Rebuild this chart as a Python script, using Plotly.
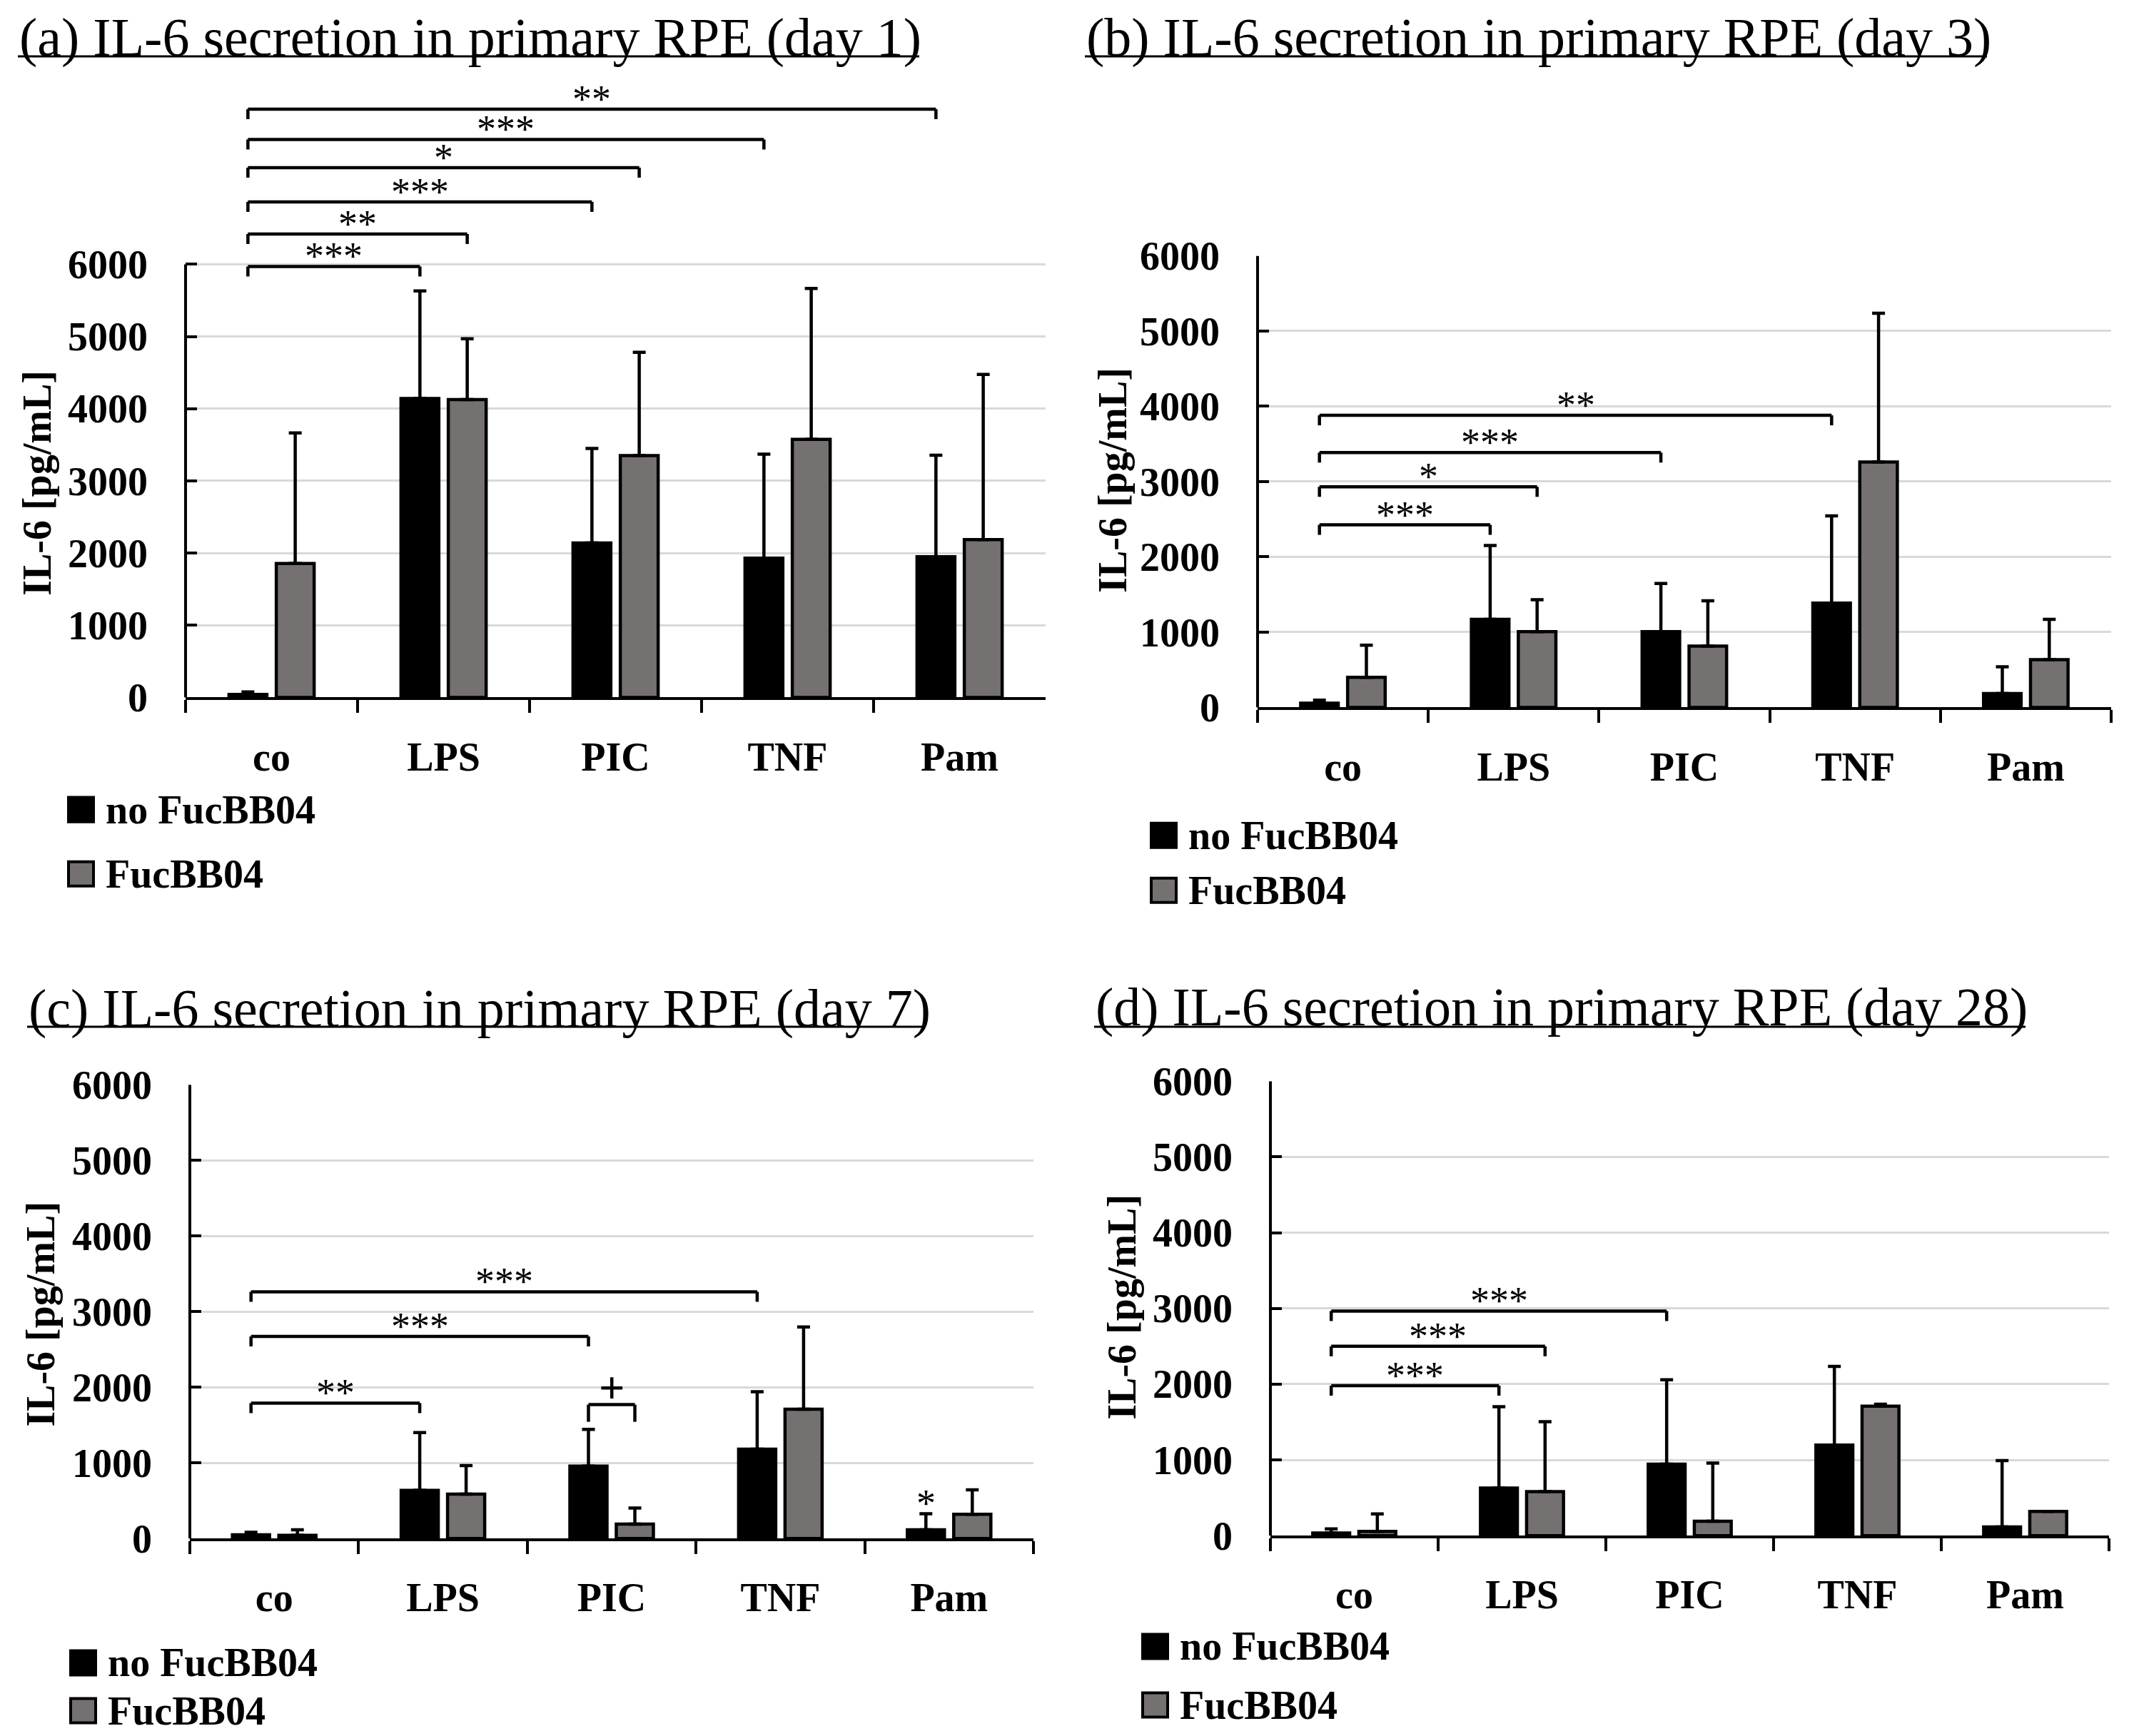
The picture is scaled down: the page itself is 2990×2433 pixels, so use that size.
import plotly.graph_objects as go

categories = ["co", "LPS", "PIC", "TNF", "Pam"]

# (a) day 1
day1_no = [40, 4140, 2140, 1930, 1950]
day1_no_err = [35, 1490, 1310, 1440, 1405]
day1_fuc = [1855, 4125, 3350, 3575, 2185]
day1_fuc_err = [1810, 845, 1430, 2090, 2290]

# (b) day 3
day3_no = [55, 1170, 1005, 1385, 185]
day3_no_err = [40, 980, 640, 1160, 355]
day3_fuc = [400, 1005, 815, 3260, 635]
day3_fuc_err = [425, 425, 600, 1975, 535]

# (c) day 7
day7_no = [48, 636, 957, 1182, 116]
day7_no_err = [34, 765, 485, 759, 212]
day7_fuc = [41, 588, 191, 1709, 321]
day7_fuc_err = [75, 376, 212, 1087, 322]

# (d) day 28
day28_no = [34, 629, 943, 1196, 116]
day28_no_err = [55, 1073, 1114, 1039, 875]
day28_fuc = [55, 581, 191, 1709, 321]
day28_fuc_err = [232, 923, 766, 27, 0]

# significance brackets: (from category, series, to category, series, level, label)
day1_sig = [(0, 0, 1, 0, 5970, "***"), (0, 0, 1, 1, 6420, "**"), (0, 0, 2, 0, 6865, "***"),
            (0, 0, 2, 1, 7340, "*"), (0, 0, 3, 0, 7730, "***"), (0, 0, 4, 0, 8150, "**")]
day3_sig = [(0, 0, 1, 0, 2425, "***"), (0, 0, 1, 1, 2930, "*"), (0, 0, 2, 0, 3385, "***"),
            (0, 0, 3, 0, 3880, "**")]
day7_sig = [(0, 0, 1, 0, 1790, "**"), (0, 0, 2, 0, 2672, "***"), (0, 0, 3, 0, 3262, "***"),
            (2, 0, 2, 1, 1770, "+")]
day28_sig = [(0, 0, 1, 0, 1980, "***"), (0, 0, 1, 1, 2500, "***"), (0, 0, 2, 0, 2965, "***")]

W, H = 2990, 2433
OFF = 8  # page body margin
Y_K, Y_D = 0.973, 37.3  # vertical correction seen in the screenshot
FONT = "Liberation Serif"
GREY = "#767171"
BAR_W = 0.22
SLOT = 0.275  # distance between the two bars of a group

panels = [
    dict(title="(a) IL-6 secretion in primary RPE (day 1)", no=day1_no, no_err=day1_no_err,
         fuc=day1_fuc, fuc_err=day1_fuc_err, sig=day1_sig,
         left=260, right=1465, y0=983, y6000=377, top=8400,
         tx=25, tx2=1288, ty=60, uy=86, ytx=52, yty=683, lx=96, rows=[1140, 1230]),
    dict(title="(b) IL-6 secretion in primary RPE (day 3)", no=day3_no, no_err=day3_no_err,
         fuc=day3_fuc, fuc_err=day3_fuc_err, sig=day3_sig,
         left=1762, right=2958, y0=997, y6000=365, top=6000,
         tx=1520, tx2=2784, ty=60, uy=86, ytx=1559, yty=679, lx=1613, rows=[1176, 1253]),
    dict(title="(c) IL-6 secretion in primary RPE (day 7)", no=day7_no, no_err=day7_no_err,
         fuc=day7_fuc, fuc_err=day7_fuc_err, sig=day7_sig,
         left=266, right=1448, y0=2160, y6000=1525, top=6000,
         tx=38, tx2=1294, ty=1418, uy=1444, ytx=57, yty=1846, lx=99, rows=[2334, 2401]),
    dict(title="(d) IL-6 secretion in primary RPE (day 28)", no=day28_no, no_err=day28_no_err,
         fuc=day28_fuc, fuc_err=day28_fuc_err, sig=day28_sig,
         left=1780, right=2955, y0=2156, y6000=1520, top=6000,
         tx=1533, tx2=2838, ty=1416, uy=1444, ytx=1572, yty=1836, lx=1601, rows=[2311, 2393]),
]


def px_x(v):
    return (v - OFF) / W


def px_y(v):
    v = (v - Y_D) / Y_K
    return 1 - (v - OFF) / H


def bar_center(cat, series):
    return cat + (SLOT / 2 if series else -SLOT / 2)


fig = go.Figure()
shapes = []
annotations = []

for i, p in enumerate(panels):
    n = "" if i == 0 else str(i + 1)
    xa, ya = "x" + n, "y" + n
    scale = (p["y0"] - p["y6000"]) / 6000
    top_px = p["y0"] - scale * p["top"]

    for vals, errs, color, off in [(p["no"], p["no_err"], "black", -SLOT / 2),
                                   (p["fuc"], p["fuc_err"], GREY, SLOT / 2)]:
        fig.add_trace(go.Bar(
            x=categories, y=vals, xaxis=xa, yaxis=ya,
            width=BAR_W, offset=off - BAR_W / 2,
            marker=dict(color=color, line=dict(color="black", width=4.5)),
            error_y=dict(type="data", array=errs, arrayminus=[0] * len(errs), symmetric=False,
                         color="black", thickness=4.5, width=9),
            showlegend=False,
        ))

    fig.update_layout(**{
        "xaxis" + n: dict(
            domain=[px_x(p["left"]), px_x(p["right"])], anchor=ya, type="category",
            range=[-0.5, 4.5], showline=True, linewidth=4, linecolor="black",
            ticks="outside", tickson="boundaries", ticklen=18, tickwidth=4, tickcolor="black",
            tickfont=dict(family=FONT, size=56, color="black", weight="bold"),
            ticklabelstandoff=31, showgrid=False, fixedrange=True,
        ),
        "yaxis" + n: dict(
            domain=[px_y(p["y0"]), px_y(top_px)], anchor=xa, range=[0, p["top"]],
            tickvals=[0, 1000, 2000, 3000, 4000, 5000, 6000],
            ticks="inside", ticklen=16, tickwidth=4, tickcolor="black",
            tickfont=dict(family=FONT, size=56, color="black", weight="bold"),
            ticklabelstandoff=52, showgrid=True, gridcolor="#d9d9d9", gridwidth=3,
            zeroline=False, showline=False, fixedrange=True,
        ),
    })

    # y axis line only up to 6000
    shapes.append(dict(type="line", xref=xa + " domain", yref=ya, x0=0, x1=0, y0=0, y1=6000,
                       line=dict(color="black", width=4)))

    # significance brackets
    for c1, s1, c2, s2, lvl, lab in p["sig"]:
        x1, x2 = bar_center(c1, s1), bar_center(c2, s2)
        tick = (24 if lab == "+" else 14) / scale
        for xs, ys in [((x1, x2), (lvl, lvl)), ((x1, x1), (lvl - tick, lvl)),
                       ((x2, x2), (lvl - tick, lvl))]:
            shapes.append(dict(type="line", xref=xa, yref=ya, x0=xs[0], x1=xs[1],
                               y0=ys[0], y1=ys[1], line=dict(color="black", width=4.5)))
        plus = lab == "+"
        annotations.append(dict(xref=xa, yref=ya, x=(x1 + x2) / 2, y=lvl, text=lab,
                                showarrow=False, yanchor="middle",
                                yshift=24 if plus else 14,
                                font=dict(family=FONT, size=64 if plus else 54, color="black",
                                          weight="bold" if plus else "normal")))

    # title with underline
    annotations.append(dict(xref="paper", yref="paper", x=px_x(p["tx"]), y=px_y(p["ty"]),
                            xanchor="left", yanchor="middle", showarrow=False,
                            text=p["title"],
                            font=dict(family=FONT, size=76, color="black")))
    shapes.append(dict(type="line", xref="paper", yref="paper",
                       x0=px_x(p["tx"]), x1=px_x(p["tx2"]), y0=px_y(p["uy"]), y1=px_y(p["uy"]),
                       line=dict(color="black", width=3)))
    # y axis title
    annotations.append(dict(xref="paper", yref="paper", x=px_x(p["ytx"]), y=px_y(p["yty"]),
                            xanchor="center", yanchor="middle", showarrow=False, textangle=-90,
                            text="IL-6 [pg/mL]",
                            font=dict(family=FONT, size=56, color="black", weight="bold")))
    # legend
    for row, name, fill in zip(p["rows"], ["no FucBB04", "FucBB04"], ["black", GREY]):
        shapes.append(dict(type="rect", xref="paper", yref="paper",
                           x0=px_x(p["lx"]), x1=px_x(p["lx"] + 35),
                           y0=px_y(row + 17), y1=px_y(row - 17),
                           fillcolor=fill, line=dict(color="black", width=4)))
        annotations.append(dict(xref="paper", yref="paper", x=px_x(p["lx"] + 50), y=px_y(row),
                                xanchor="left", yanchor="middle", showarrow=False, text=name,
                                font=dict(family=FONT, size=56, color="black", weight="bold")))

# extra star above Pam (day 7)
annotations.append(dict(xref="x3", yref="y3", x=bar_center(4, 0), y=day7_no[4] + day7_no_err[4],
                        text="*", showarrow=False, yanchor="middle", yshift=14,
                        font=dict(family=FONT, size=54, color="black")))

fig.update_layout(
    width=W, height=H, margin=dict(l=0, r=0, t=0, b=0),
    paper_bgcolor="white", plot_bgcolor="white",
    shapes=shapes, annotations=annotations, showlegend=False,
)

fig.write_html("out.html")
